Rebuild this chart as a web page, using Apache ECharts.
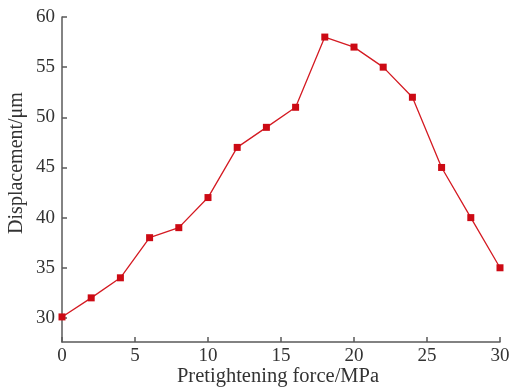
<!DOCTYPE html>
<html><head><meta charset="utf-8">
<script src="https://cdn.jsdelivr.net/npm/echarts@6/dist/echarts.min.js"></script>
<style>html,body{margin:0;padding:0;background:#fff}#c{width:511px;height:390px}</style>
</head><body><div id="c"></div>
<script>
const forces = [0,2,4,6,8,10,12,14,16,18,20,22,24,26,28,30];
const displacement = [30.1,32,34,38,39,42,47,49,51,58,57,55,52,45,40,35];
const xTicks = [0,5,10,15,20,25,30];
const yTicks = [30,35,40,45,50,55,60];
const xTitle = 'Pretightening force/MPa';
const yTitle = 'Displacement/μm';
const chart = echarts.init(document.getElementById('c'));
const font = '"Liberation Serif","Times New Roman",serif';
const axisCol = '#5a5a5a';
const txtCol = '#333';
chart.setOption({
  animation:false,
  grid:{left:62,right:11,top:17,bottom:48,outerBoundsMode:'none'},
  xAxis:{type:'value',min:0,max:30,
    axisLine:{show:true,lineStyle:{color:axisCol,width:1.5}},
    axisTick:{show:true,inside:true,length:5,customValues:xTicks,lineStyle:{color:axisCol,width:1.5}},
    axisLabel:{customValues:xTicks,fontFamily:font,fontSize:19,color:txtCol,margin:5},
    splitLine:{show:false}},
  yAxis:{type:'value',min:27.6,max:60,
    axisLine:{show:true,lineStyle:{color:axisCol,width:1.5}},
    axisTick:{show:true,inside:true,length:5,customValues:yTicks,lineStyle:{color:axisCol,width:1.5}},
    axisLabel:{customValues:yTicks,fontFamily:font,fontSize:19,color:txtCol,margin:7},
    splitLine:{show:false}},
  graphic:[
    {type:'text',x:17,y:163,rotation:Math.PI/2,
     style:{text:yTitle,font:'20px '+font,fill:txtCol,textAlign:'center',textVerticalAlign:'middle'}},
    {type:'text',x:278,y:377,
     style:{text:xTitle,font:'20.5px '+font,fill:txtCol,textAlign:'center',textVerticalAlign:'middle'}}
  ],
  series:[{type:'line',data:forces.map((f,i)=>[f,displacement[i]]),
    symbol:'rect',symbolSize:7,
    lineStyle:{color:'#d41a22',width:1.3},
    itemStyle:{color:'#cc0a14'}}]
});
</script></body></html>
